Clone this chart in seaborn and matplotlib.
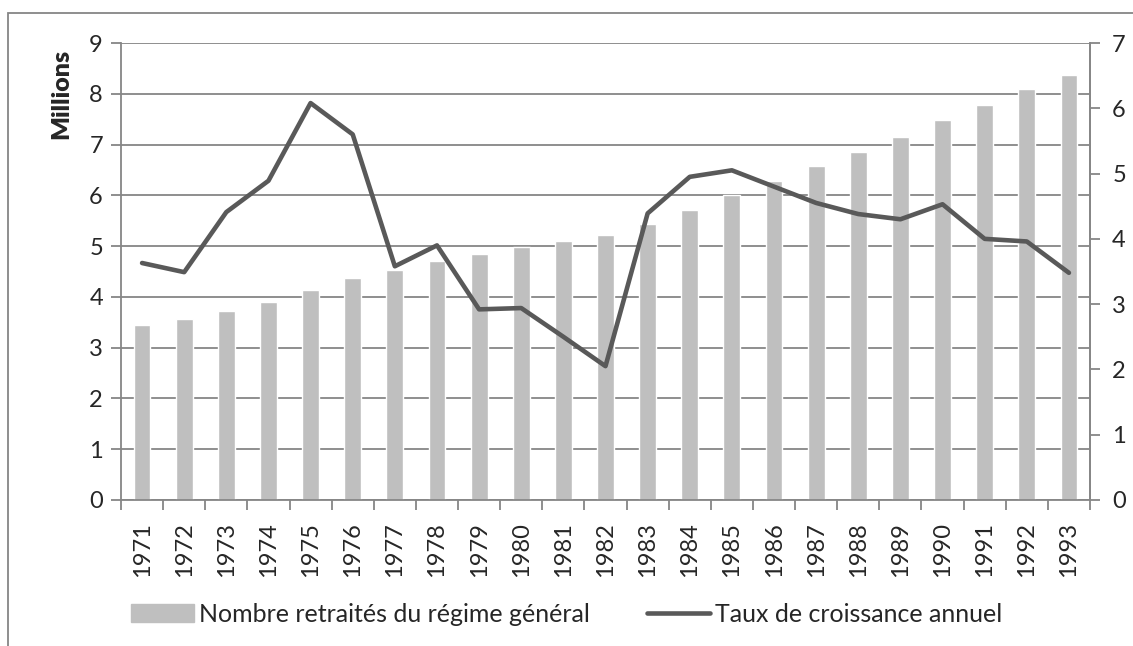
import numpy as np
import pandas as pd
import matplotlib
matplotlib.use('Agg')
import matplotlib.pyplot as plt
from matplotlib.patches import Rectangle
from matplotlib.lines import Line2D
from matplotlib.ticker import FixedLocator
import seaborn as sns

# data
years = [str(y) for y in range(1971, 1994)]
retraites = [3.44, 3.56, 3.72, 3.90, 4.14, 4.37, 4.52, 4.71, 4.85, 4.98, 5.11, 5.22,
             5.44, 5.71, 6.00, 6.28, 6.58, 6.86, 7.15, 7.48, 7.77, 8.09, 8.37]
croissance = [3.63, 3.49, 4.41, 4.89, 6.08, 5.60, 3.58, 3.90, 2.92, 2.94, 2.50, 2.05,
              4.39, 4.95, 5.05, 4.80, 4.55, 4.38, 4.30, 4.53, 4.00, 3.96, 3.48]
left_ticks = list(range(0, 10))
right_ticks = list(range(0, 8))

df = pd.DataFrame({'annee': years, 'retraites': retraites, 'croissance': croissance})

sns.set_style('white')
plt.rcParams['font.family'] = ['Lato', 'DejaVu Sans']

grid_col = '#868686'
bar_col = '#BFBFBF'
line_col = '#595959'
fs = 17

fig = plt.figure(figsize=(11.33, 6.46), dpi=100)
ax = fig.add_axes([121/1133, 1-500/646, (1090-121)/1133, (500-43)/646])

sns.barplot(data=df, x='annee', y='retraites', color=bar_col, width=0.4,
            saturation=1, ax=ax, zorder=2)
ax.set_xlim(-0.5, len(years)-0.5)
ax.set_ylim(0, 9)
ax.set_yticks(left_ticks)
ax.yaxis.grid(True, color=grid_col, lw=1.3, zorder=0)
ax.set_axisbelow(True)
ax.set_xlabel('')
ax.set_ylabel('')
ax.tick_params(axis='y', labelsize=fs, length=7, width=1.3, color=grid_col, pad=6, left=True)
ax.tick_params(axis='x', which='major', length=0, labelsize=fs, rotation=90, pad=16)
ax.xaxis.set_minor_locator(FixedLocator(np.arange(-0.5, len(years), 1)))
ax.tick_params(axis='x', which='minor', length=7, width=1.3, color=grid_col, bottom=True)
for s in ['left', 'bottom', 'right']:
    ax.spines[s].set_color(grid_col)
    ax.spines[s].set_linewidth(1.3)
ax.spines['top'].set_visible(False)

ax2 = ax.twinx()
sns.lineplot(data=df, x='annee', y='croissance', color=line_col, lw=3.3,
             sort=False, ax=ax2, zorder=3)
ax2.set_xlim(-0.5, len(years)-0.5)
ax2.set_ylim(0, 7)
ax2.set_yticks(right_ticks)
ax2.set_ylabel('')
ax2.set_xlabel('')
ax2.tick_params(axis='y', labelsize=fs, length=7, width=1.3, color=grid_col, pad=9, right=True)
for s in ['left', 'bottom', 'top']:
    ax2.spines[s].set_visible(False)
ax2.spines['right'].set_color(grid_col)
ax2.spines['right'].set_linewidth(1.3)

fig.text(61/1133, 1-94/646, 'Millions', rotation=90, fontsize=18, fontweight='heavy',
         ha='center', va='center')

handles = [Rectangle((0, 0), 1, 1, color=bar_col),
           Line2D([0], [0], color=line_col, lw=3.3)]
fig.legend(handles, ['Nombre retraités du régime général', 'Taux de croissance annuel'],
           loc='center', bbox_to_anchor=(0.5, 1-614/646), ncol=2, frameon=False,
           fontsize=18, handlelength=2.5, handletextpad=0.2, columnspacing=2.3)

# outer chart frame (top and left edges visible)
fig.add_artist(Rectangle((8/1133, -0.1), 1.1, 1-13/646+0.1, transform=fig.transFigure,
                         fill=False, ec=grid_col, lw=1.3))

fig.savefig('out.png', dpi=100)
